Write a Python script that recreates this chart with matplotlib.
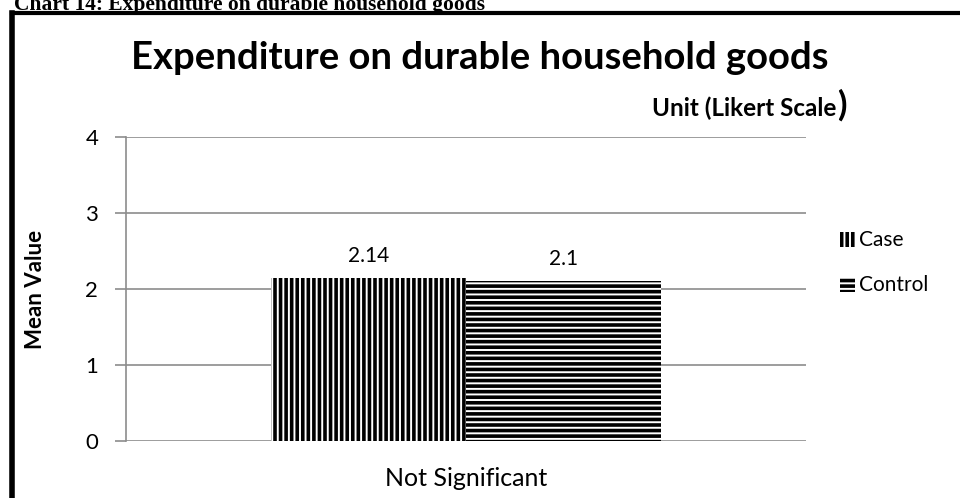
import matplotlib
matplotlib.use("Agg")
import matplotlib.pyplot as plt
from matplotlib.patches import Patch
from matplotlib.lines import Line2D

categories = ["Not Significant"]
case_values = [2.14]
control_values = [2.1]
series_names = ["Case", "Control"]
y_ticks = [0, 1, 2, 3, 4]

plt.rcParams["font.family"] = ["Lato", "DejaVu Sans"]
plt.rcParams["hatch.linewidth"] = 2.6

fig = plt.figure(figsize=(9.6, 4.98), dpi=100)
ax = fig.add_axes([0.13125, 0.1145, 0.7083, 0.6104])

width = 0.287
x = list(range(len(categories)))
case_bars = ax.bar(
    [i - width / 2 for i in x], case_values, width,
    facecolor="white", edgecolor="black", linewidth=0, hatch="|||"
)
control_bars = ax.bar(
    [i + width / 2 for i in x], control_values, width,
    facecolor="white", edgecolor="black", linewidth=0, hatch="---"
)

for bars, vals in [(case_bars, case_values), (control_bars, control_values)]:
    for b, v in zip(bars, vals):
        ax.text(
            b.get_x() + b.get_width() / 2, v + 0.3, f"{v:g}",
            ha="center", va="center", fontsize=15
        )

ax.set_xlim(-0.5, 0.5)
ax.set_ylim(0, 4)
ax.set_yticks(y_ticks)
ax.set_xticks(x)
ax.set_xticklabels(categories, fontsize=18)
ax.tick_params(axis="x", length=0, pad=19)
ax.tick_params(axis="y", length=8, color="#8c8c8c", width=1.2, labelsize=16, pad=12)
ax.yaxis.grid(True, color="#8c8c8c", linewidth=1.2)
ax.set_axisbelow(True)
for s in ["top", "right", "bottom"]:
    ax.spines[s].set_visible(False)
ax.spines["left"].set_color("#8c8c8c")
ax.spines["left"].set_linewidth(1.2)

ax.set_ylabel("Mean Value", fontsize=16, fontweight="bold", labelpad=28)

handles = [
    Patch(facecolor="white", edgecolor="black", linewidth=0, hatch="|||"),
    Patch(facecolor="white", edgecolor="black", linewidth=0, hatch="---"),
]
fig.legend(
    handles, series_names, loc="upper left", bbox_to_anchor=(0.855, 0.575),
    frameon=False, fontsize=15, handlelength=0.75, handleheight=0.75,
    handletextpad=0.2, labelspacing=1.2
)

fig.text(0.5, 1 - 58 / 498, "Expenditure on durable household goods",
         ha="center", va="center", fontsize=27.5, fontweight="bold")
fig.text(836 / 960, 1 - 108 / 498, "Unit (Likert Scale",
         ha="right", va="center", fontsize=17.5, fontweight="bold")
fig.text(837 / 960, 1 - 105 / 498, ")",
         ha="left", va="center", fontsize=25, fontweight="bold")

fig.text(14 / 960, 1 - 10 / 498, "Chart 14: Expenditure on durable household goods",
         ha="left", va="baseline", fontsize=15.5, fontweight="bold",
         family="Liberation Serif")

fig.add_artist(Line2D([12 / 960, 12 / 960], [0, 1 - 13.5 / 498],
                      color="black", linewidth=4, solid_capstyle="projecting"))
fig.add_artist(Line2D([12 / 960, 1], [1 - 13.5 / 498, 1 - 13.5 / 498],
                      color="black", linewidth=3, solid_capstyle="projecting"))

fig.savefig("out.png", dpi=100)
